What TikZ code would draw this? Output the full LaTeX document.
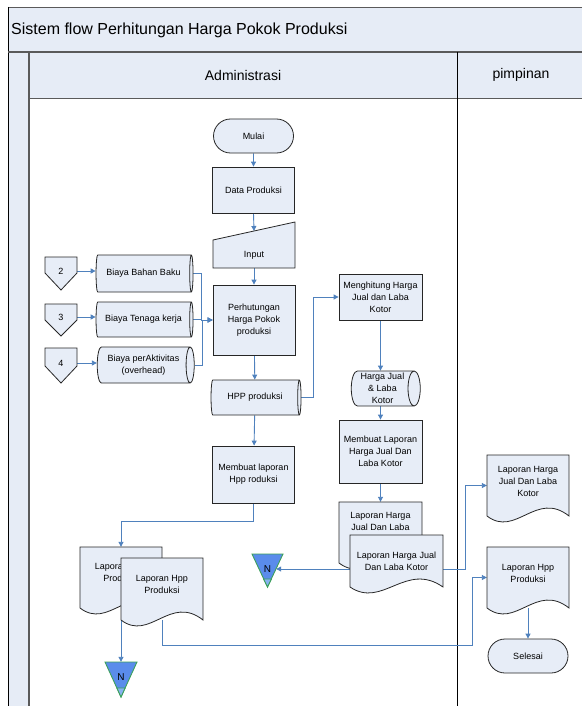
\documentclass[tikz,border=0pt]{standalone}
\usepackage{fontspec}
\setmainfont{Liberation Sans}
\usetikzlibrary{arrows.meta,calc,shapes.geometric,shapes.misc}
\definecolor{nfill}{RGB}{231,237,247}
\definecolor{band}{RGB}{230,236,246}
\definecolor{arrowblue}{RGB}{79,129,189}
\definecolor{nblue}{RGB}{90,140,235}
\definecolor{ntip}{RGB}{135,178,240}
\definecolor{ngreen}{RGB}{60,160,90}
\definecolor{framegray}{RGB}{90,90,90}
\pgfdeclarelayer{bg}
\pgfdeclarelayer{conn}
\pgfsetlayers{bg,conn,main}
\tikzset{
  flow/.style={draw=black!85, fill=nfill, line width=0.8pt, font=\fontsize{9}{12}\selectfont, align=center},
  procbox/.style={flow, rectangle, minimum width=82pt, inner sep=1pt},
  term/.style={flow, rounded rectangle, minimum width=82pt, minimum height=34pt, inner sep=1pt},
  cyl/.style={flow, cylinder, shape aspect=0.4, inner sep=0pt},
  shapeline/.style={draw=black!85, fill=nfill, line width=0.8pt},
  arr/.style={draw=arrowblue, line width=0.9pt, -{Triangle[length=5pt,width=5pt]}},
  ghost/.style={draw=none, fill=none, inner sep=0pt},
  lbl/.style={font=\fontsize{9}{12}\selectfont, align=center, inner sep=0pt},
  nconn/.style={draw=ngreen, fill=nblue, line width=0.9pt},
}
% document outline: x1, y1, x2, yb
\newcommand\mydocpath[4]{%
  \filldraw[shapeline] (#1,#2) -- (#3,#2) -- (#3,#4)
    .. controls ({#1+0.6*(#3-#1)},{#4-26}) and ({#1+0.35*(#3-#1)},{#4+22}) .. (#1,#4) -- cycle;}
\begin{document}
\begin{tikzpicture}[x=1pt,y=-1pt]
\useasboundingbox (0,0) rectangle (582,706);
% ---------- frame ----------
\begin{pgfonlayer}{bg}
  \fill[band] (8,7) rectangle (582,52);
  \fill[band] (8,52) rectangle (29,706);
  \fill[band] (29,52) rectangle (582,98);
  \draw[framegray, line width=0.8pt] (582,7) -- (8,7);
  \draw[black, line width=1pt] (8,7) -- (8,706);
  \draw[framegray, line width=1.6pt] (8,52) -- (582,52);
  \draw[framegray, line width=1.2pt] (29,52) -- (29,706);
  \draw[framegray, line width=0.8pt] (29,98) -- (582,98);
  \draw[black, line width=1pt] (457,52) -- (457,706);
  \node[anchor=west, inner sep=0pt, font=\fontsize{16}{18}\selectfont] (title) at (11,30) {Sistem flow Perhitungan Harga Pokok Produksi};
  \node[inner sep=0pt, font=\fontsize{14}{16}\selectfont] (laneA) at (243,75) {Administrasi};
  \node[inner sep=0pt, font=\fontsize{14}{16}\selectfont] (laneB) at (521,75) {pimpinan};
\end{pgfonlayer}

% ---------- main column ----------
\node[term] (mulai) at (253.5,136) {Mulai};
\node[procbox, minimum height=46pt] (data) at (253.5,190) {Data Produksi};
\filldraw[shapeline] (213,240) -- (295,222) -- (295,268) -- (213,268) -- cycle;
\node[ghost, minimum width=82pt, minimum height=46pt] (inp) at (254,245) {};
\coordinate (inptop) at ($(213,240)!0.5!(295,222)$);
\node[lbl] (inp-t) at (254,255) {Input};
\node[procbox, minimum height=70pt] (perh) at (254,320) {Perhutungan\\Harga Pokok\\produksi};
\node[cyl, minimum height=90pt, minimum width=35pt] (hpp) at (255,397.5) {HPP produksi};
\node[procbox, minimum height=57pt] (mbl) at (253.5,474.5) {Membuat laporan\\Hpp roduksi};

% ---------- cost inputs ----------
\node[cyl, minimum height=97pt, minimum width=37pt] (bbb) at (143.5,273.5) {Biaya Bahan Baku};
\node[cyl, minimum height=97pt, minimum width=35pt] (btk) at (143.5,319.5) {Biaya Tenaga kerja};
\node[cyl, minimum height=97pt, minimum width=36pt] (bpa) at (143.5,365) {Biaya perAktivitas\\(overhead)};

\filldraw[shapeline] (45,257) -- (77,257) -- (77,273) -- (61,290) -- (45,273) -- cycle;
\node[ghost, lbl, minimum width=32pt, minimum height=12pt] (c2) at (61,271) {2};
\filldraw[shapeline] (45,304) -- (77,304) -- (77,320) -- (61,336) -- (45,320) -- cycle;
\node[ghost, lbl, minimum width=32pt, minimum height=12pt] (c3) at (61,317) {3};
\filldraw[shapeline] (45,348) -- (77,348) -- (77,366) -- (61,383) -- (45,366) -- cycle;
\node[ghost, lbl, minimum width=32pt, minimum height=12pt] (c4) at (61,363) {4};

% ---------- selling price column ----------
\node[procbox, minimum width=83pt, minimum height=46pt] (mhj) at (380.5,297) {Menghitung Harga\\Jual dan Laba\\Kotor};
\node[cyl, minimum height=69pt, minimum width=35pt] (hjl) at (382.5,388.5) {Harga Jual\\\& Laba\\Kotor};
\node[procbox, minimum width=83pt, minimum height=63pt] (mlhj) at (380.5,451.5) {Membuat Laporan\\Harga Jual Dan\\Laba Kotor};

% documents (back then front)
\mydocpath{339}{502}{422}{563}
\node[ghost, minimum width=83pt, minimum height=61pt] (bhj) at (380.5,532.5) {};
\node[lbl] (bhj-t) at (380.5,527) {Laporan Harga\\Jual Dan Laba\\Kotor};
\mydocpath{350}{535}{443}{587}
\node[ghost, minimum width=93pt, minimum height=52pt] (fhj) at (396.5,561) {};
\node[lbl] (fhj-t) at (396.5,561) {Laporan Harga Jual\\Dan Laba Kotor};

\mydocpath{80}{547}{162}{608}
\node[ghost, minimum width=82pt, minimum height=61pt] (bhpp) at (121,577.5) {};
\node[lbl] (bhpp-t) at (121,572) {Laporan Hpp\\Produksi};
\mydocpath{121}{558}{203}{620}
\node[ghost, minimum width=82pt, minimum height=62pt] (fhpp) at (162,589) {};
\node[lbl] (fhpp-t) at (162,584) {Laporan Hpp\\Produksi};

% off-page N connectors
\filldraw[nconn] (105,662) -- (137,662) -- (121,697) -- cycle;
\filldraw[nconn, fill=ntip] (116.9,688) -- (125.1,688) -- (121,697) -- cycle;
\node[ghost, lbl, font=\fontsize{10}{12}\selectfont, minimum width=16pt, minimum height=30pt] (nA) at (121,677) {N};
\filldraw[nconn] (252,554) -- (283,554) -- (267.5,587) -- cycle;
\filldraw[nconn, fill=ntip] (263.6,579) -- (271.4,579) -- (267.5,587) -- cycle;
\node[ghost, lbl, font=\fontsize{10}{12}\selectfont, minimum width=17pt, minimum height=30pt] (n2) at (267.5,569) {N};

% ---------- pimpinan ----------
\mydocpath{487}{455}{569}{516}
\node[ghost, minimum width=82pt, minimum height=61pt] (phj) at (528,485.5) {};
\node[lbl] (phj-t) at (528,481) {Laporan Harga\\Jual Dan Laba\\Kotor};
\mydocpath{487}{547}{569}{608}
\node[ghost, minimum width=82pt, minimum height=61pt] (phpp) at (528,577.5) {};
\node[lbl] (phpp-t) at (528,573) {Laporan Hpp\\Produksi};
\node[term] (sel) at (528,656) {Selesai};

% ---------- connectors ----------
\begin{pgfonlayer}{conn}
  \draw[arr] (mulai) -- (data);
  \draw[arr] (data.south) -- (inptop);
  \draw[arr] (inp.south) -- (perh.north);
  \draw[arr] (perh) -- (hpp);
  \draw[arr] (hpp) -- (mbl);
  \draw[arr] (c2.east) -- (c2.east -| bbb.west);
  \draw[arr] (c3.east) -- (c3.east -| btk.west);
  \draw[arr] (c4.east) -- (c4.east -| bpa.west);
  \draw[arr] (bbb.east) -- ++(8,0) |- (perh.west);
  \draw[arr] (btk.east) -- ++(8,0) |- (perh.west);
  \draw[arr] (bpa.east) -- ++(8,0) |- (perh.west);
  \draw[arr] (hpp.east) -- ++(12,0) |- (mhj.west);
  \draw[arr] (mhj.south) -- (mhj.south |- hjl.north);
  \draw[arr] (hjl.south -| mlhj.south) -- (mlhj.north);
  \draw[arr] (mlhj.south) -- (bhj.north);
  \draw[arr] (mbl.south) -- ++(0,18) -| (bhpp.north);
  \draw[arr] (bhpp.south) -- (nA.north);
  \draw[arr] (fhj.west |- n2.east) -- (n2.east);
  \draw[arr] (fhj.east |- n2.east) -- ++(22,0) |- (phj.west);
  \draw[arr] (fhpp.south) -- ++(0,25) -| ($(phpp.west)+(-14,0)$) -- (phpp.west);
  \draw[arr] (phpp.south) -- (sel.north);
\end{pgfonlayer}
\end{tikzpicture}
\end{document}
